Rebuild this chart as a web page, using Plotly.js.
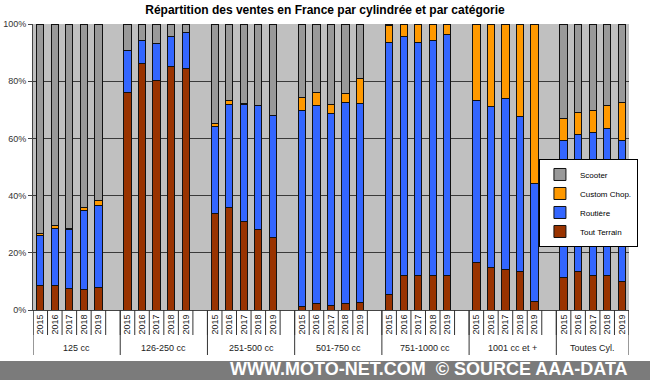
<!DOCTYPE html>
<html>
<head>
<meta charset="utf-8">
<script src="https://cdn.plot.ly/plotly-3.0.1.min.js"></script>
<style>html,body{margin:0;padding:0;background:#fff}#chart{width:650px;height:380px}</style>
</head>
<body>
<div id="chart"></div>
<script>
const groups = ['125 cc','126-250 cc','251-500 cc','501-750 cc','751-1000 cc','1001 cc et +','Toutes Cyl.'];
const years = ['2015','2016','2017','2018','2019'];
const toutTerrain = [8.7,8.5,7.5,7.2,8.0, 76.1,86.1,80.1,85.1,84.5, 33.8,35.9,31.0,28.2,25.4, 1.4,2.2,1.7,2.4,2.7, 5.4,11.9,12.1,12.1,12.1, 16.7,14.9,14.1,13.6,2.8, 11.3,13.3,11.9,12.1,9.8];
const routiere = [17.3,19.9,20.5,27.5,28.6, 14.8,8.2,13.1,10.7,12.6, 30.4,36.1,40.8,43.4,42.7, 68.3,69.4,67.1,70.2,69.6, 88.1,83.6,81.3,82.3,84.2, 56.4,56.4,59.8,53.9,41.5, 47.8,47.9,50.3,51.2,49.3];
const customChop = [0.8,1.1,0.4,1.2,1.6, 0,0,0,0,0, 1.1,1.2,0.3,0,0, 4.7,4.3,3.1,3.0,8.5, 5.9,4.2,6.6,5.6,3.7, 26.9,28.7,26.1,32.5,55.7, 7.7,7.8,7.7,8.3,13.3];
const scooter = [73.2,70.5,71.6,64.1,61.8, 9.1,5.7,6.8,4.2,2.9, 34.7,26.8,27.9,28.4,31.9, 25.6,24.1,28.1,24.4,19.2, 0.6,0.3,0,0,0, 0,0,0,0,0, 33.2,31.0,30.1,28.4,27.6];
const seriesNames = ['Tout Terrain','Routière','Custom Chop.','Scooter'];
const seriesColors = ['#993300','#3366ff','#ff9900','#999999'];

// slot positions: 5 years per group + one empty slot between groups
const slot = 6;
const xs = [], tickText = [];
groups.forEach((g, gi) => years.forEach((y, yi) => { xs.push(gi * slot + yi); tickText.push(y); }));
const nSlots = groups.length * slot - 1;

const data = [toutTerrain, routiere, customChop, scooter].map((vals, i) => ({
  type: 'bar', x: xs, y: vals, name: seriesNames[i],
  marker: {color: seriesColors[i], line: {color: '#111', width: 1}},
  width: 0.5, hoverinfo: 'skip'
}));

const plotH = 380 - 24 - 70;
const px = p => p / plotH; // pixels -> paper units (vertical)
const shapes = [];
const annotations = [];
groups.forEach((g, gi) => {
  const start = gi * slot - 0.5;
  const end = Math.min(start + slot, nSlots - 0.5);
  for (let k = 0; k <= 5; k++) {
    shapes.push({type: 'line', xref: 'x', yref: 'paper', x0: start + k, x1: start + k, y0: 0, y1: -px(25), line: {color: '#333', width: 1}});
  }
  shapes.push({type: 'line', xref: 'x', yref: 'paper', x0: start, x1: start, y0: 0, y1: -px(45), line: {color: '#333', width: 1}});
  if (gi === groups.length - 1) {
    shapes.push({type: 'line', xref: 'x', yref: 'paper', x0: end, x1: end, y0: 0, y1: -px(45), line: {color: '#333', width: 1}});
  }
  annotations.push({xref: 'x', yref: 'paper', x: (start + end) / 2, y: -px(38), text: g, showarrow: false,
    font: {family: 'Arial, Liberation Sans, sans-serif', size: 9, color: '#222'}, xanchor: 'center', yanchor: 'middle'});
});
// footer band
shapes.push({type: 'rect', xref: 'paper', yref: 'paper', x0: -0.1, x1: 1.1, y0: -px(51), y1: -px(75), fillcolor: '#7b7b7b', line: {width: 0}, layer: 'below'});
annotations.push({xref: 'paper', yref: 'paper', x: 1.0, y: -px(69.5), xanchor: 'right', yanchor: 'bottom', showarrow: false, borderpad: 0,
  text: 'WWW.MOTO-NET.COM  © SOURCE AAA-DATA', font: {family: 'Arial, Liberation Sans, sans-serif', size: 18, color: '#ffffff', weight: 'bold'}});

const layout = {
  width: 650, height: 380,
  margin: {l: 33, r: 14, t: 24, b: 70},
  paper_bgcolor: '#ffffff', plot_bgcolor: '#c0c0c0',
  barmode: 'stack',
  title: {text: '<b>Répartition des ventes en France par cylindrée et par catégorie</b>', x: 0.5, xanchor: 'center', y: 0.975, yanchor: 'middle',
    font: {family: 'Arial, Liberation Sans, sans-serif', size: 12, color: '#000'}},
  xaxis: {range: [-0.5, nSlots - 0.5], tickmode: 'array', tickvals: xs, ticktext: tickText, tickangle: -90,
    tickfont: {family: 'Arial, Liberation Sans, sans-serif', size: 9, color: '#222'}, showgrid: false, zeroline: false,
    showline: true, linecolor: '#444', ticks: '', fixedrange: true},
  yaxis: {range: [0, 100], tickvals: [0,20,40,60,80,100], ticktext: ['0%','20%','40%','60%','80%','100%'],
    tickfont: {family: 'Arial, Liberation Sans, sans-serif', size: 9, color: '#333'}, showgrid: true, gridcolor: '#3a3a3a', gridwidth: 1,
    zeroline: false, showline: true, linecolor: '#444', ticks: 'outside', ticklen: 4, tickcolor: '#444', fixedrange: true},
  legend: {x: 1.015, y: 0.528, xanchor: 'right', yanchor: 'top', traceorder: 'reversed', bgcolor: '#ffffff', bordercolor: '#000', borderwidth: 1,
    font: {family: 'Arial, Liberation Sans, sans-serif', size: 8, color: '#000'}, itemwidth: 30, tracegroupgap: 0},
  shapes: shapes, annotations: annotations, showlegend: true
};
Plotly.newPlot('chart', data, layout, {displayModeBar: false, staticPlot: true});
</script>
</body>
</html>
